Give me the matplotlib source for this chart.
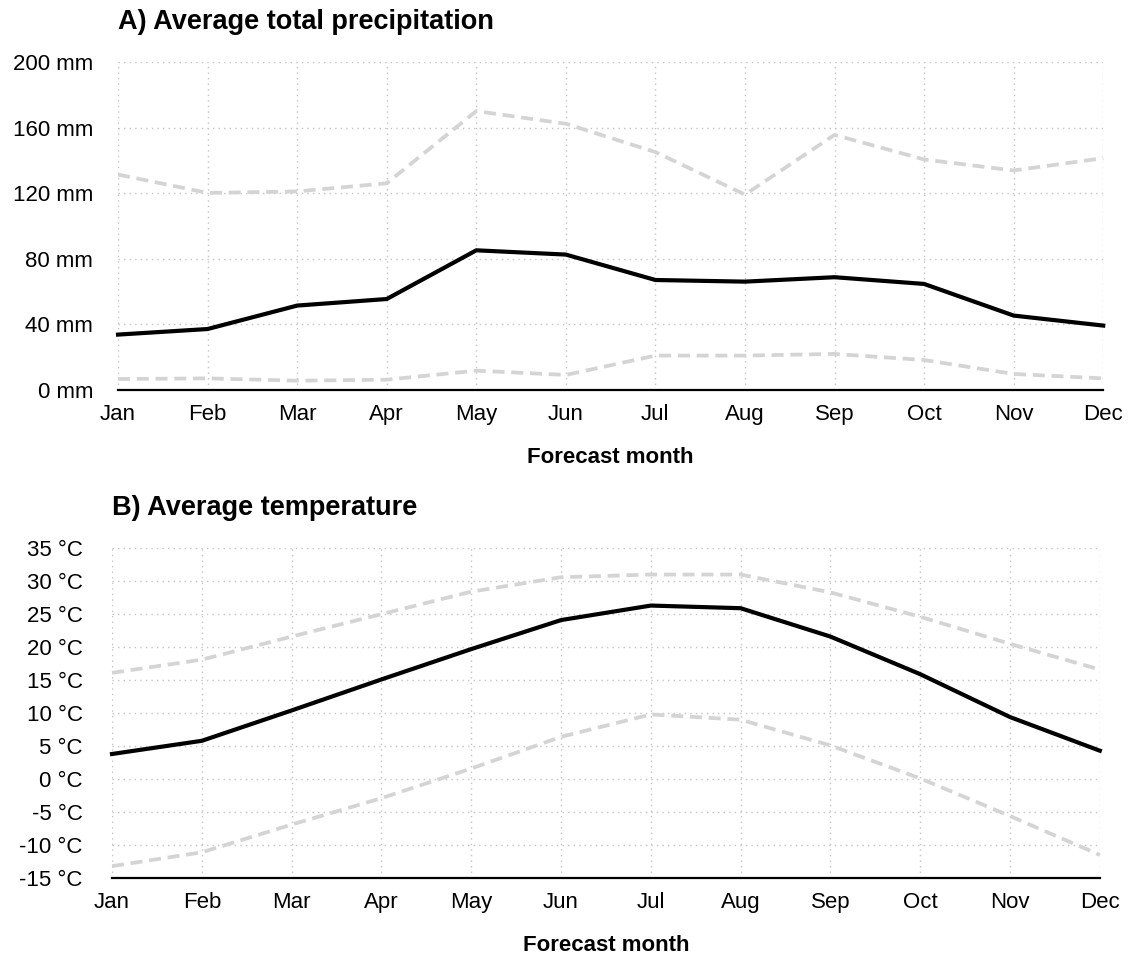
import numpy as np
import matplotlib.pyplot as plt

plt.rcParams['font.family'] = ['Liberation Sans', 'DejaVu Sans']

# Datos
meses = ['Jan', 'Feb', 'Mar', 'Apr', 'May', 'Jun', 'Jul', 'Aug', 'Sep', 'Oct', 'Nov', 'Dec']

prec_media = [33.8, 37.2, 51.5, 55.5, 85.2, 82.6, 67.1, 66.1, 68.8, 64.7, 45.4, 39.3]
prec_alta = [131.4, 120.2, 121.1, 126.1, 170.1, 162.4, 145.1, 119.2, 155.6, 140.6, 133.9, 141.4]
prec_baja = [6.7, 7.1, 5.7, 6.3, 11.8, 9.2, 21.0, 21.0, 22.0, 18.3, 9.8, 7.1]

temp_media = [3.8, 5.8, 10.4, 15.1, 19.7, 24.1, 26.3, 25.9, 21.6, 15.9, 9.4, 4.3]
temp_alta = [16.1, 18.1, 21.6, 25.0, 28.4, 30.6, 31.0, 31.0, 28.3, 24.6, 20.5, 16.6]
temp_baja = [-13.2, -11.1, -6.9, -2.9, 1.6, 6.4, 9.8, 9.0, 5.1, 0.1, -5.6, -11.5]

prec_ticks = [0, 40, 80, 120, 160, 200]
temp_ticks = [-15, -10, -5, 0, 5, 10, 15, 20, 25, 30, 35]

x = np.arange(len(meses))
gris = '#d4d4d4'

fig = plt.figure(figsize=(11.35, 9.55), dpi=100)
ax1 = fig.add_axes([0.104, 0.5916, 0.868, 0.3434])
ax2 = fig.add_axes([0.0987, 0.0806, 0.8703, 0.3454])


def estilo(ax, ticks, unidad, titulo, pad_y):
    ax.set_xlim(0, len(meses) - 1)
    ax.set_ylim(ticks[0], ticks[-1])
    ax.set_xticks(x)
    ax.set_xticklabels(meses)
    ax.set_yticks(ticks)
    ax.set_yticklabels([f'{t} {unidad}' for t in ticks])
    ax.tick_params(length=0, labelsize=16)
    ax.tick_params(axis='x', pad=10)
    ax.tick_params(axis='y', pad=pad_y)
    ax.grid(True, linestyle=(0, (1, 3)), color='#c4c4c4', linewidth=1.0)
    for s in ['top', 'right', 'left']:
        ax.spines[s].set_visible(False)
    ax.spines['bottom'].set_linewidth(1.6)
    ax.spines['bottom'].set_zorder(5)
    ax.set_xlabel('Forecast month', fontsize=16, fontweight='bold', labelpad=16)
    ax.set_title(titulo, loc='left', fontsize=19.5, fontweight='bold', pad=24)


# A) Precipitación
ax1.plot(x, prec_alta, color=gris, lw=2.7, dashes=(3.2, 1.8), clip_on=False)
ax1.plot(x, prec_baja, color=gris, lw=2.7, dashes=(3.2, 1.8), clip_on=False)
ax1.plot(x, prec_media, color='black', lw=3.0, clip_on=False)
estilo(ax1, prec_ticks, 'mm', 'A) Average total precipitation', 18)

# B) Temperatura
ax2.plot(x, temp_alta, color=gris, lw=2.7, dashes=(3.2, 1.8), clip_on=False)
ax2.plot(x, temp_baja, color=gris, lw=2.7, dashes=(3.2, 1.8), clip_on=False)
ax2.plot(x, temp_media, color='black', lw=3.0, clip_on=False)
estilo(ax2, temp_ticks, '°C', 'B) Average temperature', 21)

fig.savefig('out.png', dpi=100)
